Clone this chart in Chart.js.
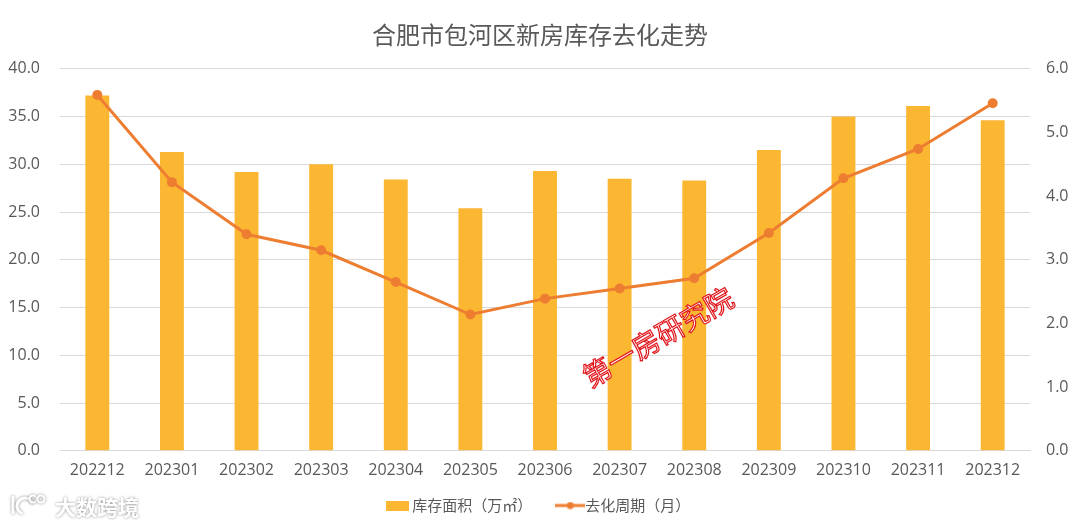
<!DOCTYPE html>
<html>
<head>
<meta charset="utf-8">
<script src="https://cdn.jsdelivr.net/npm/chart.js@4/dist/chart.umd.min.js"></script>
<style>
  html, body { margin: 0; padding: 0; background: #fff; }
</style>
</head>
<body>
<canvas id="chart" width="1080" height="526"></canvas>
<script>
const months = ["202212", "202301", "202302", "202303", "202304", "202305", "202306",
  "202307", "202308", "202309", "202310", "202311", "202312"];
const stockArea = [37.2, 31.3, 29.2, 30.0, 28.4, 25.4, 29.3, 28.5, 28.3, 31.5, 35.0, 36.1, 34.6];
const clearCycle = [5.59, 4.22, 3.40, 3.15, 2.65, 2.14, 2.39, 2.55, 2.71, 3.42, 4.28, 4.74, 5.46];
const leftTicks = [0, 5, 10, 15, 20, 25, 30, 35, 40];
const rightTicks = [0, 1, 2, 3, 4, 5, 6];

const FONT = "'Open Sans', 'Noto Sans CJK SC', sans-serif";
const barColor = "#FBB632";
const lineColor = "#ED7D31";

// small legend icons
function barIcon() {
  const c = document.createElement("canvas");
  c.width = 23; c.height = 10;
  const g = c.getContext("2d");
  g.fillStyle = barColor;
  g.fillRect(0, 0, 23, 10);
  return c;
}
function lineIcon() {
  const c = document.createElement("canvas");
  c.width = 30; c.height = 8;
  const g = c.getContext("2d");
  g.strokeStyle = lineColor;
  g.lineWidth = 3;
  g.beginPath(); g.moveTo(0, 4); g.lineTo(30, 4); g.stroke();
  g.fillStyle = lineColor;
  g.beginPath(); g.arc(15, 4, 3.5, 0, Math.PI * 2); g.fill();
  return c;
}

const marks = {
  id: "marks",
  afterDraw(chart) {
    const ctx = chart.ctx;
    // red stamp text
    ctx.save();
    ctx.translate(658, 337);
    ctx.rotate(-30 * Math.PI / 180);
    ctx.font = "28px 'Noto Sans CJK SC'";
    ctx.textAlign = "center";
    ctx.textBaseline = "middle";
    ctx.lineWidth = 1.2;
    ctx.strokeStyle = "#e0151b";
    ctx.fillStyle = "#fff";
    ctx.fillText("第一房研究院", 0, 0);
    ctx.strokeText("第一房研究院", 0, 0);
    ctx.restore();

    // bottom-left logo
    ctx.save();
    ctx.shadowColor = "rgba(0,0,0,0.45)";
    ctx.shadowBlur = 3;
    ctx.strokeStyle = "#fff";
    ctx.lineWidth = 3;
    ctx.beginPath(); ctx.moveTo(13, 496); ctx.lineTo(13, 514); ctx.stroke();
    ctx.beginPath(); ctx.arc(25, 506, 8, 0.6 * Math.PI, 1.9 * Math.PI); ctx.stroke();
    ctx.lineWidth = 2;
    ctx.beginPath(); ctx.arc(33, 499, 3.5, 0, Math.PI * 2); ctx.stroke();
    ctx.beginPath(); ctx.arc(41, 499, 3.5, 0, Math.PI * 2); ctx.stroke();
    ctx.fillStyle = "#fff";
    ctx.font = "bold 21px 'Noto Sans CJK SC'";
    ctx.textBaseline = "middle";
    ctx.fillText("大数跨境", 55, 507);
    ctx.restore();
  }
};

new Chart(document.getElementById("chart"), {
  data: {
    labels: months,
    datasets: [
      {
        type: "line",
        label: "去化周期（月）",
        data: clearCycle,
        yAxisID: "y1",
        borderColor: lineColor,
        backgroundColor: lineColor,
        borderWidth: 3,
        pointRadius: 3.5,
        pointHoverRadius: 3.5,
        tension: 0,
        order: 0
      },
      {
        type: "bar",
        label: "库存面积（万㎡）",
        data: stockArea,
        yAxisID: "y",
        backgroundColor: barColor,
        categoryPercentage: 1,
        barPercentage: 0.32,
        order: 1
      }
    ]
  },
  options: {
    responsive: false,
    animation: false,
    devicePixelRatio: 1,
    layout: { padding: { left: 0, right: 0, top: 0, bottom: 3 } },
    plugins: {
      title: {
        display: true,
        text: "合肥市包河区新房库存去化走势",
        color: "#595959",
        font: { family: "'Noto Sans CJK SC'", size: 24, weight: "normal" },
        padding: { top: 20, bottom: 20 }
      },
      legend: {
        position: "bottom",
        reverse: true,
        labels: {
          usePointStyle: true,
          color: "#595959",
          font: { family: "'Noto Sans CJK SC'", size: 15 },
          padding: 8,
          generateLabels(chart) {
            const items = Chart.defaults.plugins.legend.labels.generateLabels(chart);
            items.forEach(it => {
              it.pointStyle = it.datasetIndex === 1 ? barIcon() : lineIcon();
              if (it.datasetIndex === 1) it.text = it.text + "\u3000\u3000";
            });
            return items;
          }
        }
      },
      tooltip: { enabled: false }
    },
    scales: {
      x: {
        grid: { display: false, drawTicks: false },
        border: { color: "#d9d9d9" },
        ticks: { color: "#595959", font: { family: FONT, size: 16 }, padding: 10, maxRotation: 0, autoSkip: false }
      },
      y: {
        position: "left",
        min: 0, max: 40,
        afterBuildTicks(scale) { scale.ticks = leftTicks.map(v => ({ value: v })); },
        afterFit(scale) { scale.width = 60; },
        grid: { color: "#d9d9d9", drawTicks: false },
        border: { display: false },
        ticks: {
          color: "#595959",
          font: { family: FONT, size: 16 },
          padding: 20,
          callback: v => v.toFixed(1)
        }
      },
      y1: {
        position: "right",
        min: 0, max: 6,
        afterBuildTicks(scale) { scale.ticks = rightTicks.map(v => ({ value: v })); },
        afterFit(scale) { scale.width = 50; },
        grid: { display: false, drawTicks: false },
        border: { display: false },
        ticks: {
          color: "#595959",
          font: { family: FONT, size: 16 },
          padding: 16,
          callback: v => v.toFixed(1)
        }
      }
    }
  },
  plugins: [marks]
});
</script>
</body>
</html>
